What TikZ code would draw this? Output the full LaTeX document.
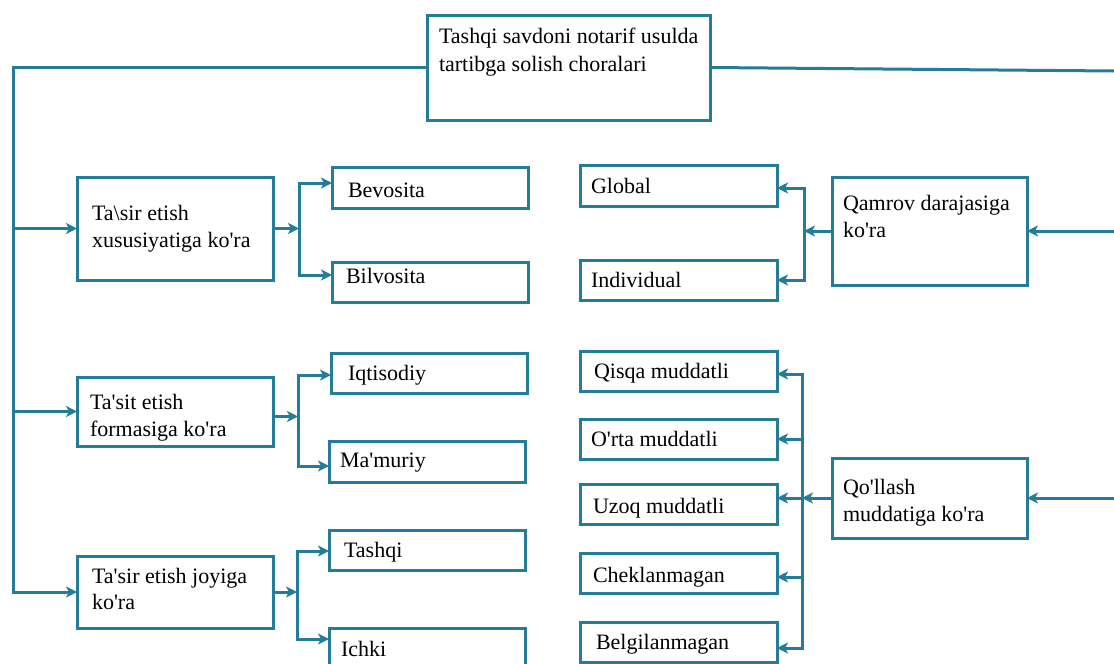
\documentclass[tikz,border=0pt]{standalone}
\usepackage{fontspec}
\setmainfont{Liberation Serif}[Ligatures=TeXOff]
\usetikzlibrary{arrows.meta}
\definecolor{tealline}{RGB}{36,124,150}
\newcommand\mybox[5]{\node[box, minimum width={#4-#2}, minimum height={#5-#3}] (#1) at ({(#2+#4)/2},{(#3+#5)/2}) {};}
\begin{document}
\begin{tikzpicture}[x=1pt,y=-1pt,
  box/.style={draw=tealline, line width=3pt, inner sep=0pt, outer sep=0pt},
  txt/.style={inner sep=0pt, outer sep=0pt, font=\fontsize{22}{27}\selectfont, align=left, text=black},
  wire/.style={draw=tealline, line width=3pt},
  arr/.style={wire, -{Stealth[length=11pt,width=11pt,inset=3pt]}},
]
\useasboundingbox (0,0) rectangle (1114,664);
% boxes
\mybox{top}{427}{15}{710}{120}
\mybox{A}{77}{177}{273}{280}
\mybox{B}{77}{377}{273}{446}
\mybox{C}{77}{556}{273}{628}
\mybox{bev}{332}{167}{528}{208}
\mybox{bil}{332}{262}{528}{302}
\mybox{iqt}{331}{353}{527}{393}
\mybox{mam}{329}{441}{525}{482}
\mybox{tas}{329}{530}{525}{570}
\mybox{ich}{329}{628}{525}{674}
\mybox{Q}{832}{177}{1027}{285}
\mybox{L}{832}{458}{1027}{538}
\mybox{glo}{580}{165}{777}{206}
\mybox{ind}{580}{260}{777}{300}
\mybox{qis}{580}{351}{777}{391}
\mybox{ort}{580}{419}{777}{459}
\mybox{uzo}{580}{484}{777}{524}
\mybox{che}{580}{553}{777}{593}
\mybox{bel}{580}{622}{777}{662}
% texts
\node[txt, anchor=north west, font=\fontsize{22}{28}\selectfont] (ttop) at (439,28) {Tashqi savdoni notarif usulda\\tartibga solish choralari};
\node[txt, anchor=north west] (tA) at (92,205) {Ta\textbackslash sir etish\\xususiyatiga ko'ra};
\node[txt, anchor=north west] (tB) at (90,394) {Ta'sit etish\\formasiga ko'ra};
\node[txt, anchor=north west, font=\fontsize{22}{26}\selectfont] (tC) at (92,568) {Ta'sir etish joyiga\\ko'ra};
\node[txt, anchor=north west] (tQ) at (843,195) {Qamrov darajasiga\\ko'ra};
\node[txt, anchor=north west] (tL) at (843,479) {Qo'llash\\muddatiga ko'ra};
\node[txt, anchor=base west] (tbev) at (348,197) {Bevosita};
\node[txt, anchor=base west] (tbil) at (346,283) {Bilvosita};
\node[txt, anchor=base west] (tiqt) at (348,380) {Iqtisodiy};
\node[txt, anchor=base west] (tmam) at (340,467) {Ma'muriy};
\node[txt, anchor=base west] (ttas) at (344,557) {Tashqi};
\node[txt, anchor=base west] (tich) at (341,656) {Ichki};
\node[txt, anchor=base west] (tglo) at (591,193) {Global};
\node[txt, anchor=base west] (tind) at (591,287) {Individual};
\node[txt, anchor=base west] (tqis) at (594,378) {Qisqa muddatli};
\node[txt, anchor=base west] (tort) at (591,446) {O'rta muddatli};
\node[txt, anchor=base west] (tuzo) at (593,513) {Uzoq muddatli};
\node[txt, anchor=base west] (tche) at (593,582) {Cheklanmagan};
\node[txt, anchor=base west] (tbel) at (596,649) {Belgilanmagan};
% main connectors
\coordinate (lb) at (13,594);
\coordinate (re) at (1114,71);
\coordinate (rq) at (1114,231);
\coordinate (rl) at (1114,498);
\draw[wire] (top.west) -| (lb);
\draw[wire] (top.east) -- (re);
\foreach \n in {A,B,C} \draw[arr] (\n.west -| lb) -- (\n.west);
\draw[arr] (rq) -- (Q.east);
\draw[arr] (rl) -- (L.east);
% left branches
\coordinate (jA) at (299,183); \coordinate (kA) at (299,275);
\draw[arr] (A.east) -- (A.east -| jA);
\draw[arr] (kA) -- (jA) -- (jA -| bev.west);
\draw[arr] (jA) -- (kA) -- (kA -| bil.west);
\coordinate (jB) at (298,375); \coordinate (kB) at (298,466);
\draw[arr] ([yshift=-5pt]B.east) -- ([yshift=-5pt]B.east -| jB);
\draw[arr] (kB) -- (jB) -- (jB -| iqt.west);
\draw[arr] (jB) -- (kB) -- (kB -| mam.west);
\coordinate (jC) at (297,551); \coordinate (kC) at (297,639);
\draw[arr] (C.east) -- (C.east -| jC);
\draw[arr] (kC) -- (jC) -- (jC -| tas.west);
\draw[arr] (jC) -- (kC) -- (kC -| ich.west);
% right branches
\coordinate (jQ) at (804,188); \coordinate (kQ) at (804,280);
\draw[arr] (Q.west) -- (Q.west -| jQ);
\draw[arr] (kQ) -- (jQ) -- (jQ -| glo.east);
\draw[arr] (jQ) -- (kQ) -- (kQ -| ind.east);
\coordinate (jL1) at (802,374);
\coordinate (jL2) at (802,439);
\coordinate (jL3) at (802,498);
\coordinate (jL4) at (802,577);
\coordinate (jL5) at (802,648);
\draw[arr] (L.west) -- (L.west -| jL1);
\draw[arr] (jL5) -- (jL1) -- (jL1 -| qis.east);
\draw[arr] (jL1) -- (jL5) -- (jL5 -| bel.east);
\draw[arr] (jL2) -- (jL2 -| ort.east);
\draw[arr] (jL3) -- (jL3 -| uzo.east);
\draw[arr] (jL4) -- (jL4 -| che.east);
\end{tikzpicture}
\end{document}
